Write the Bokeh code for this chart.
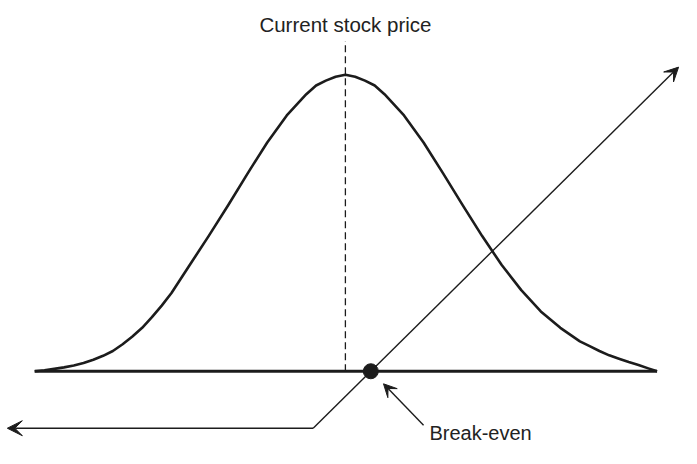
from bokeh.plotting import figure
from bokeh.models import Range1d, Arrow, VeeHead, ColumnDataSource
from bokeh.core.properties import value
from bokeh.embed import file_html
from bokeh.resources import INLINE

# Bell curve (price distribution), x in price units, h = probability height
curve_x = [35, 45, 55, 65, 75, 85, 95, 105, 115, 125, 135, 145, 155, 165, 175, 193, 213, 233,
           253, 273, 293, 313, 323, 333, 343, 353, 363, 373, 383, 393, 413, 433, 453, 473,
           493, 513, 533, 553, 573, 583, 593, 603, 613, 623, 633, 643, 653, 663, 672]
curve_h = [0, 1, 2.5, 4, 6, 8.5, 12, 16, 21, 28, 36, 45, 56, 68, 81, 109, 140, 172,
           205, 237, 265, 287, 296, 301, 305, 307, 305, 301, 296, 287, 265, 237, 205, 172,
           140, 110, 84, 62, 45, 38, 31, 26, 21, 16.5, 13, 9.5, 6.5, 3, 0]

base_x = [35, 672]
current_price = 353
current_top = 342
breakeven = 379

# Payoff line: flat loss on the left, then rising at 45 degrees
payoff_x = [7, 320, 694]
payoff_h = [-59, -59, 315]

title_text = "Current stock price"
be_text = "Break-even"
be_label_x = 439
be_label_h = -64
be_arrow = [433, -56, 392, -13]

INK = "#1c1c1c"
FONT = value("Liberation Sans")

p = figure(width=681, height=448, x_range=Range1d(0, 697), y_range=Range1d(-80, 384),
           output_backend="svg", toolbar_location=None, min_border=0,
           x_axis_location=None, y_axis_location=None)
p.grid.visible = False
p.outline_line_color = None
p.background_fill_color = "white"
p.border_fill_color = "white"

# baseline
p.line(base_x, [0, 0], line_color=INK, line_width=3)
# bell curve
p.line(curve_x, curve_h, line_color=INK, line_width=2.6, line_join="round")
# current stock price dashed line
p.line([current_price, current_price], [0, current_top], line_color=INK, line_width=1.3,
       line_dash="7 4")

# payoff arrows
p.add_layout(Arrow(x_start=payoff_x[1], y_start=payoff_h[1], x_end=payoff_x[0], y_end=payoff_h[0],
                   line_color=INK, line_width=1.4,
                   end=VeeHead(size=15, fill_color=INK, line_color=INK, line_width=1)))
p.add_layout(Arrow(x_start=payoff_x[1], y_start=payoff_h[1], x_end=payoff_x[2], y_end=payoff_h[2],
                   line_color=INK, line_width=1.4,
                   end=VeeHead(size=14, fill_color=INK, line_color=INK, line_width=1)))

# break-even dot
p.scatter([breakeven], [0], size=15, fill_color=INK, line_color=INK)

# break-even annotation arrow
p.add_layout(Arrow(x_start=be_arrow[0], y_start=be_arrow[1], x_end=be_arrow[2], y_end=be_arrow[3],
                   line_color=INK, line_width=1.4,
                   end=VeeHead(size=13, fill_color=INK, line_color=INK, line_width=1)))

src_t = ColumnDataSource(dict(x=[current_price], y=[359], t=[title_text]))
p.text(x="x", y="y", text="t", source=src_t, text_font=FONT, text_font_size="20.5px",
       text_align="center", text_baseline="alphabetic", text_color="#222222")
src_b = ColumnDataSource(dict(x=[be_label_x], y=[be_label_h], t=[be_text]))
p.text(x="x", y="y", text="t", source=src_b, text_font=FONT, text_font_size="20px",
       text_align="left", text_baseline="alphabetic", text_color="#222222")

open("out.html", "w").write(file_html(p, INLINE))
